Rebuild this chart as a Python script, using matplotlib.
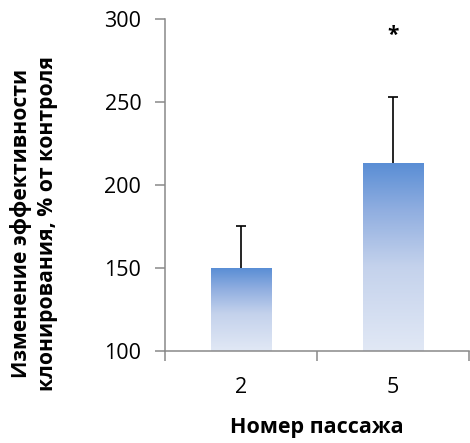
import numpy as np
import matplotlib.pyplot as plt
from matplotlib.colors import LinearSegmentedColormap

# ---- data ----
passages = ["2", "5"]
means = [150, 213]
err_up = [25, 40]
star_y = 290

plt.rcParams["font.family"] = ["Open Sans", "DejaVu Sans"]

grad = LinearSegmentedColormap.from_list(
    "bar_grad",
    [(0.0, "#e1e8f5"), (0.45, "#c4d2ec"), (0.75, "#90aee0"), (1.0, "#5a8ed5")],
)

fig = plt.figure(figsize=(4.7, 4.43), dpi=100)
ax = fig.add_axes([0.351, 0.208, 0.647, 0.749])

x = np.arange(len(passages))
width = 0.4
bars = ax.bar(x, np.array(means) - 100, width, bottom=100, color="none",
              edgecolor="none", zorder=2)

# gradient fill, one image per bar, clipped to its rectangle
g = np.linspace(0, 1, 256).reshape(-1, 1)
for b in bars:
    x0, y0 = b.get_x(), b.get_y()
    im = ax.imshow(g, cmap=grad, origin="lower", aspect="auto",
                   extent=[x0, x0 + b.get_width(), y0, y0 + b.get_height()],
                   zorder=2)
    im.set_clip_path(b)

# upper-only error bars
tops = np.array(means) + np.array(err_up)
cap = 0.03
ax.vlines(x, means, tops, color="black", lw=1.2, zorder=3)
ax.hlines(tops, x - cap, x + cap, color="black", lw=1.2, zorder=3)

ax.text(x[1], star_y, "*", ha="center", va="center", fontsize=15,
        fontweight="bold")

ax.set_xlim(-0.5, 1.5)
ax.set_ylim(100, 300)
ax.set_yticks([100, 150, 200, 250, 300])

ax.set_xticks(x)
ax.set_xticklabels(passages)
ax.set_xticks([-0.5, 0.5, 1.5], minor=True)
ax.tick_params(axis="x", which="major", length=0, pad=19, labelsize=15.5)
ax.tick_params(axis="x", which="minor", length=7, width=1.1,
               color="#898989", direction="out")
ax.tick_params(axis="y", length=7, width=1.1, color="#898989", pad=10,
               labelsize=15.5)

for s in ["top", "right"]:
    ax.spines[s].set_visible(False)
for s in ["left", "bottom"]:
    ax.spines[s].set_color("#898989")
    ax.spines[s].set_linewidth(1.1)

fig.text(0.674, 0.034, "Номер пассажа", ha="center", va="center",
         fontsize=15.5, fontweight="bold")
fig.text(0.072, 0.496, "Изменение эффективности\nклонирования, % от контроля",
         ha="center", va="center", rotation=90, fontsize=15.2,
         fontweight="bold", linespacing=1.35)

plt.savefig("out.png", dpi=100)
